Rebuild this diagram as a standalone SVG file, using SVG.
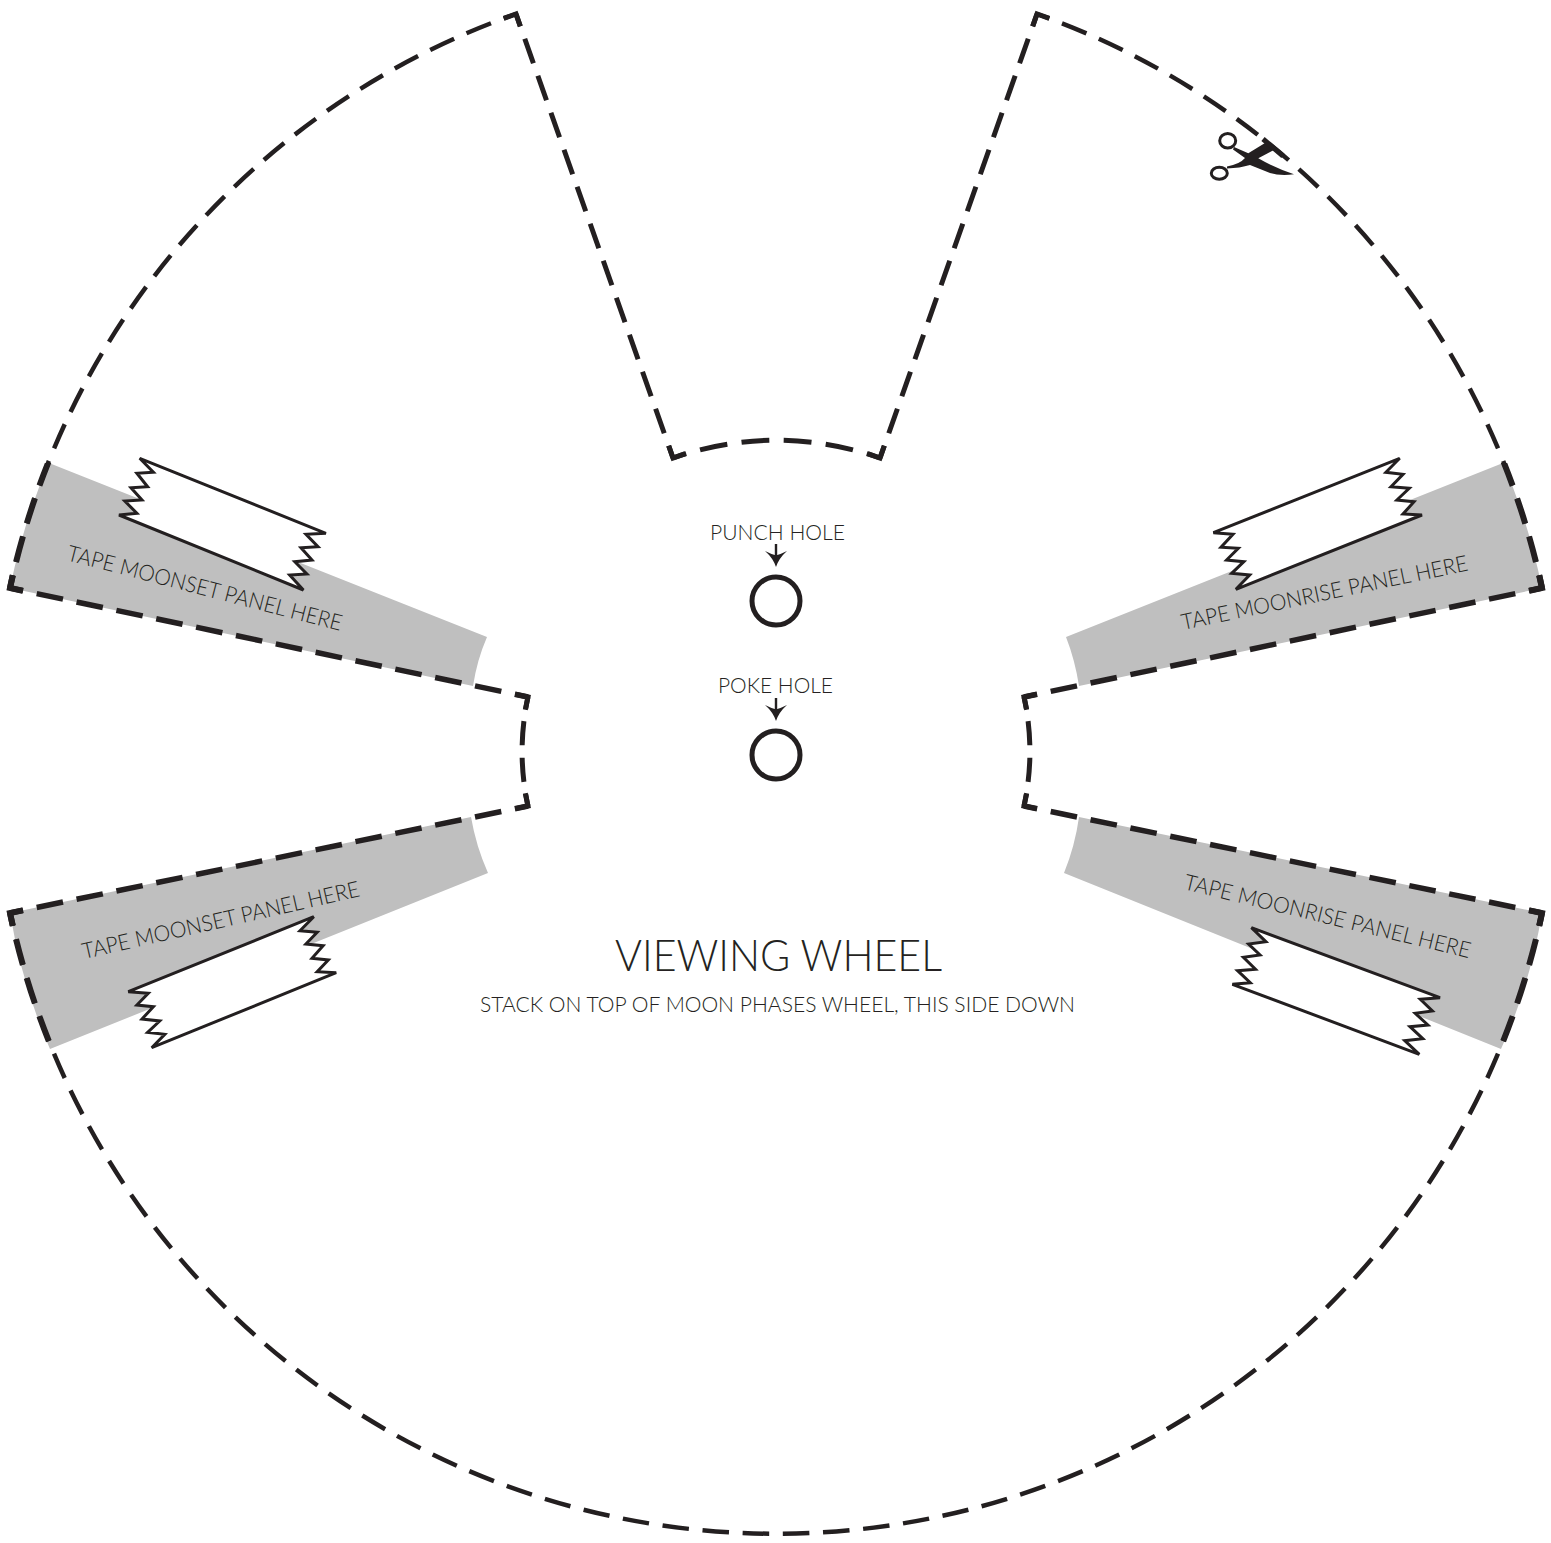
<svg xmlns="http://www.w3.org/2000/svg" width="1551" height="1543" viewBox="0 0 1551 1543">
<defs>
<clipPath id="greyband"><rect x="0" y="463" width="60" height="586"/><rect x="1491" y="463" width="60" height="586"/></clipPath>
</defs>
<style>
.cut{fill:none;stroke:#231f20;stroke-dasharray:.66 .34;stroke-dashoffset:.33}
.thin{stroke-width:4.500}.mid{stroke-width:5}.thick{stroke-width:6}.edge{stroke-width:5.500}
.corner{fill:none;stroke:#231f20;stroke-miterlimit:10}
.panel{fill:#bfbfbf}
.tape{fill:#fff;stroke:#231f20;stroke-width:3}
.ring{fill:#fff;stroke:#231f20;stroke-width:5}
.lbl{font-family:"Lato","Liberation Sans",sans-serif;font-weight:300;fill:#231f20;opacity:.99}
.s22{font-size:22px}.s44{font-size:44px}
.ink{fill:#231f20}
</style>
<rect width="1551" height="1543" fill="#fff"/>
<g id="panels">
<path class="panel" d="M49 463L487 637Q477 660 473 686L10 588Q24 520 49 463Z"/>
<path class="panel" d="M1503 463L1066 637Q1075 660 1079 686L1542 588Q1528 520 1503 463Z"/>
<path class="panel" d="M10 913L471 817Q476 846 488 873L50 1049Q22 985 10 913Z"/>
<path class="panel" d="M1542 913L1079 817Q1075 846 1064 873L1501 1049Q1530 985 1542 913Z"/>
</g>
<g id="connectors">
<path class="cut mid" pathLength="12" d="M516 14L673 458"/>
<path class="cut mid" pathLength="12" d="M1037 14L880 458"/>
<path class="cut mid" pathLength="5" d="M673 458A311 311 0 0 1 880 458"/>
<path class="cut thin" pathLength="20" d="M516 14A783 783 0 0 0 10 588"/>
<path class="cut thin" pathLength="20" d="M1037 14A783 783 0 0 1 1542 588"/>
<path class="cut thick" clip-path="url(#greyband)" pathLength="20" d="M516 14A783 783 0 0 0 10 588"/>
<path class="cut thick" clip-path="url(#greyband)" pathLength="20" d="M1037 14A783 783 0 0 1 1542 588"/>
<path class="cut edge" pathLength="13" d="M10 588L528 697"/>
<path class="cut edge" pathLength="13" d="M1542 588L1024 697"/>
<path class="cut mid" pathLength="3" d="M528 697A254 254 0 0 0 528 806"/>
<path class="cut mid" pathLength="3" d="M1024 697A254 254 0 0 1 1024 806"/>
<path class="cut edge" pathLength="13" d="M528 806L10 913"/>
<path class="cut edge" pathLength="13" d="M1024 806L1542 913"/>
<path class="cut thin" pathLength="53" d="M10 913A783 783 0 0 0 1542 913"/>
<path class="cut thick" clip-path="url(#greyband)" pathLength="53" d="M10 913A783 783 0 0 0 1542 913"/>
<path class="corner mid" d="M503.700 18.300L516 14L520.300 26.300M1049.300 18.300L1037 14L1032.700 26.300M668.700 445.700L673 458L685.300 453.700M884.300 445.700L880 458L867.700 453.700M515.300 694.300L528 697L525.300 709.700M1036.700 694.300L1024 697L1026.700 709.700M515.300 808.600L528 806L525.300 793.300M1036.700 808.600L1024 806L1026.700 793.300"/>
<path class="corner thick" d="M22.700 590.700L10 588L12.700 575.300M1529.300 590.700L1542 588L1539.300 575.300M22.700 910.400L10 913L12.700 925.700M1529.300 910.400L1542 913L1539.300 925.700"/>
</g>
<g id="tape-moonset-upper">
<polygon class="tape" points="139.7,458.3 153.4,472.3 136.9,473.3 147.6,486.7 131,487.7 142,500 124.8,501 136.9,513.3 119,515 303.4,590 289.7,575 306.9,574 294.8,561.7 312,560 301,547.7 318,546.7 306,534.3 325.9,533.3"/>
<text class="lbl s22" transform="translate(66 560) rotate(14.500)" textLength="283" lengthAdjust="spacingAndGlyphs">TAPE MOONSET PANEL HERE</text>
</g>
<g id="tape-moonrise-upper">
<polygon class="tape" points="1399.7,458.3 1385.9,472.3 1403,474.3 1391,486.7 1409.3,488.3 1396.9,500 1414,501.7 1403,514 1422,515 1235.9,589.3 1249.7,575 1231.7,573.3 1243.8,561.7 1226.6,560 1238.3,548.3 1221,547.3 1233,534.3 1213.4,532.7"/>
<text class="lbl s22" transform="translate(1183 630) rotate(-11.800)" textLength="292" lengthAdjust="spacingAndGlyphs">TAPE MOONRISE PANEL HERE</text>
</g>
<g id="tape-moonset-lower">
<polygon class="tape" points="313.8,916.7 300,930.7 317.2,932.3 305.9,944 323.1,945.7 312,958.3 328.3,960 317.2,971.7 336.2,972.7 151.7,1047.7 164.8,1034.3 147.6,1032.3 159.7,1021 142,1019 153.4,1006.7 136.9,1005 148.3,993.3 128.3,991.7"/>
<text class="lbl s22" transform="translate(84 959) rotate(-12.800)" textLength="284" lengthAdjust="spacingAndGlyphs">TAPE MOONSET PANEL HERE</text>
</g>
<g id="tape-moonrise-lower">
<polygon class="tape" points="1251.4,927.7 1265.9,941.7 1248.6,944 1260,955 1243.4,957.3 1255.5,969.3 1237.6,970.7 1250.3,982.7 1232.4,984.3 1419.3,1054.3 1404.8,1040.7 1422.8,1038.7 1410,1026.7 1427.9,1025 1415.2,1013.3 1432.4,1011 1420.3,999.3 1440,997.7"/>
<text class="lbl s22" transform="translate(1183 889) rotate(13.600)" textLength="294" lengthAdjust="spacingAndGlyphs">TAPE MOONRISE PANEL HERE</text>
</g>
<g id="punch-hole">
<text class="lbl s22" x="710" y="540" textLength="135" lengthAdjust="spacingAndGlyphs">PUNCH HOLE</text>
<path class="ink" d="M774.800 544H777.200V555Q781 554 787 551Q779 558 776 567Q773 558 765 551Q771 554 774.800 555Z"/>
<circle class="ring" cx="776" cy="601" r="24"/>
</g>
<g id="poke-hole">
<text class="lbl s22" x="718" y="693" textLength="115" lengthAdjust="spacingAndGlyphs">POKE HOLE</text>
<path class="ink" d="M774.800 698H777.200V709Q781 708 787 705Q779 712 776 721Q773 712 765 705Q771 708 774.800 709Z"/>
<circle class="ring" cx="776" cy="755" r="24"/>
</g>
<g id="title">
<text class="lbl s44" x="615" y="971" textLength="327" lengthAdjust="spacingAndGlyphs">VIEWING WHEEL</text>
<text class="lbl s22" x="480" y="1012" textLength="595" lengthAdjust="spacingAndGlyphs">STACK ON TOP OF MOON PHASES WHEEL, THIS SIDE DOWN</text>
</g>
<g id="scissors">
<ellipse cx="1227.700" cy="140.700" rx="8" ry="7.300" fill="none" stroke="#231f20" stroke-width="3"/>
<ellipse cx="1219.300" cy="173.300" rx="8" ry="6" fill="none" stroke="#231f20" stroke-width="3"/>
<path class="ink" d="M1234 147L1248.300 153.300L1265 143L1274 150L1258.300 158.300Q1275 168 1294 174.300Q1280 176 1270 173L1250 165Q1240 168 1227 168.500L1227 166.500Q1240 164 1245 158L1233 149.500Z"/>
<path d="M1263 139L1283 156" stroke="#231f20" stroke-width="5" fill="none"/>
</g>
</svg>
